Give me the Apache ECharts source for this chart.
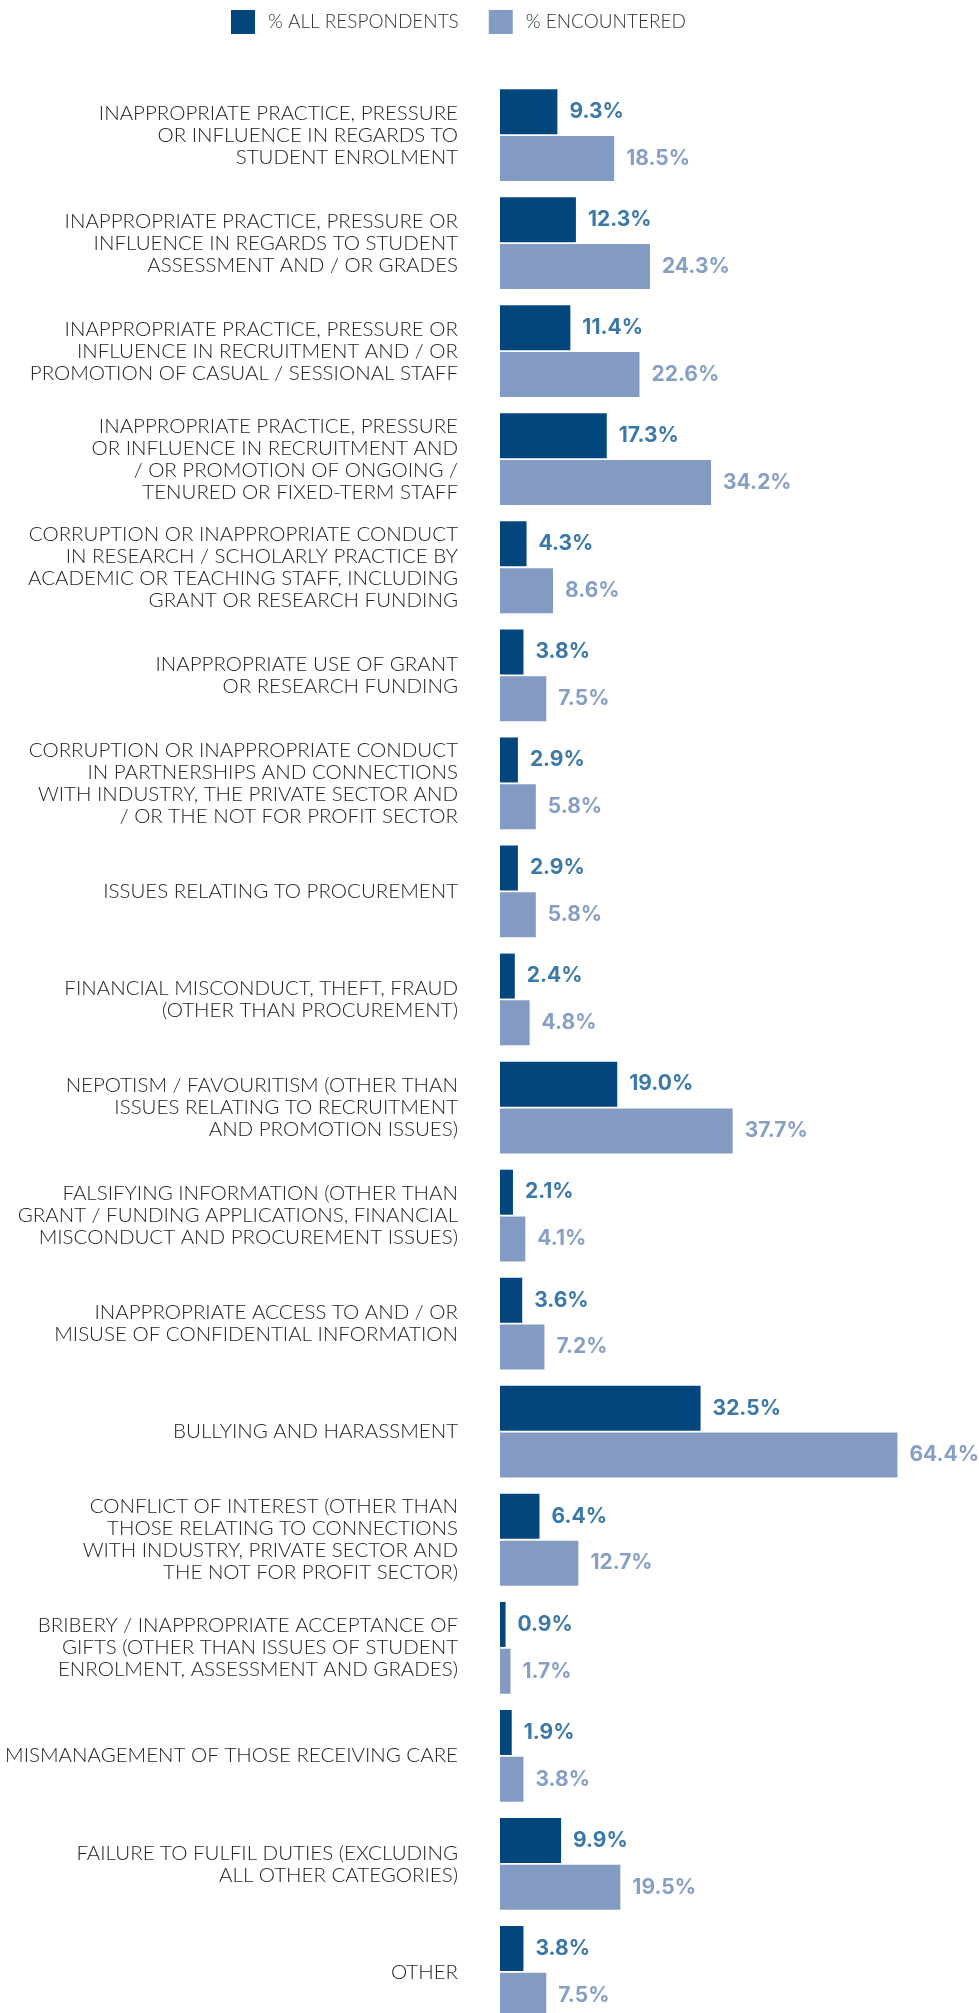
<!DOCTYPE html>
<html>
<head>
<meta charset="utf-8">
<script src="https://cdn.jsdelivr.net/npm/echarts@6/dist/echarts.min.js"></script>
<style>
  html, body { margin: 0; padding: 0; background: #ffffff; }
  #chart { width: 979px; height: 2013px; }
</style>
</head>
<body>
<div id="chart"></div>
<script>
// Issue categories (top to bottom)
const categories = [
  "INAPPROPRIATE PRACTICE, PRESSURE\nOR INFLUENCE IN REGARDS TO\nSTUDENT ENROLMENT",
  "INAPPROPRIATE PRACTICE, PRESSURE OR\nINFLUENCE IN REGARDS TO STUDENT\nASSESSMENT AND / OR GRADES",
  "INAPPROPRIATE PRACTICE, PRESSURE OR\nINFLUENCE IN RECRUITMENT AND / OR\nPROMOTION OF CASUAL / SESSIONAL STAFF",
  "INAPPROPRIATE PRACTICE, PRESSURE\nOR INFLUENCE IN RECRUITMENT AND\n/ OR PROMOTION OF ONGOING /\nTENURED OR FIXED-TERM STAFF",
  "CORRUPTION OR INAPPROPRIATE CONDUCT\nIN RESEARCH / SCHOLARLY PRACTICE BY\nACADEMIC OR TEACHING STAFF, INCLUDING\nGRANT OR RESEARCH FUNDING",
  "INAPPROPRIATE USE OF GRANT\nOR RESEARCH FUNDING",
  "CORRUPTION OR INAPPROPRIATE CONDUCT\nIN PARTNERSHIPS AND CONNECTIONS\nWITH INDUSTRY, THE PRIVATE SECTOR AND\n/ OR THE NOT FOR PROFIT SECTOR",
  "ISSUES RELATING TO PROCUREMENT",
  "FINANCIAL MISCONDUCT, THEFT, FRAUD\n(OTHER THAN PROCUREMENT)",
  "NEPOTISM / FAVOURITISM (OTHER THAN\nISSUES RELATING TO RECRUITMENT\nAND PROMOTION ISSUES)",
  "FALSIFYING INFORMATION (OTHER THAN\nGRANT / FUNDING APPLICATIONS, FINANCIAL\nMISCONDUCT AND PROCUREMENT ISSUES)",
  "INAPPROPRIATE ACCESS TO AND / OR\nMISUSE OF CONFIDENTIAL INFORMATION",
  "BULLYING AND HARASSMENT",
  "CONFLICT OF INTEREST (OTHER THAN\nTHOSE RELATING TO CONNECTIONS\nWITH INDUSTRY, PRIVATE SECTOR AND\nTHE NOT FOR PROFIT SECTOR)",
  "BRIBERY / INAPPROPRIATE ACCEPTANCE OF\nGIFTS (OTHER THAN ISSUES OF STUDENT\nENROLMENT, ASSESSMENT AND GRADES)",
  "MISMANAGEMENT OF THOSE RECEIVING CARE",
  "FAILURE TO FULFIL DUTIES (EXCLUDING\nALL OTHER CATEGORIES)",
  "OTHER"
];

// Series names
const seriesNames = ["% ALL RESPONDENTS", "% ENCOUNTERED"];

// Share of all respondents (%)
const allRespondents = [9.3, 12.3, 11.4, 17.3, 4.3, 3.8, 2.9, 2.9, 2.4, 19.0, 2.1, 3.6, 32.5, 6.4, 0.9, 1.9, 9.9, 3.8];

// Share of those who encountered the issue (%)
const encountered = [18.5, 24.3, 22.6, 34.2, 8.6, 7.5, 5.8, 5.8, 4.8, 37.7, 4.1, 7.2, 64.4, 12.7, 1.7, 3.8, 19.5, 7.5];

const DARK = "#03467D";
const LIGHT = "#839BC2";
const DARK_LABEL = "#3A78A9";
const LIGHT_LABEL = "#889FC5";
const TEXT_FONT = "Lato, 'Noto Sans', sans-serif";
const VALUE_FONT = "Inter, Lato, sans-serif";

const chart = echarts.init(document.getElementById("chart"), null, { renderer: "canvas" });

function valueLabel(color) {
  return {
    show: true,
    position: "right",
    distance: 12,
    color: color,
    fontFamily: VALUE_FONT,
    fontWeight: "bold",
    fontSize: 21,
    formatter: p => p.value.toFixed(1) + "%"
  };
}

chart.setOption({
  animation: false,
  backgroundColor: "#ffffff",
  legend: {
    top: 10,
    left: 231,
    padding: 0,
    itemWidth: 24,
    itemHeight: 24,
    itemGap: 30,
    icon: "rect",
    data: seriesNames,
    textStyle: {
      fontFamily: TEXT_FONT,
      fontWeight: 300,
      fontSize: 19,
      color: "#333333",
      padding: [0, 0, 0, 8]
    }
  },
  grid: {
    left: 500,
    top: 81,
    width: 432,
    height: 1945,
    containLabel: false,
    outerBoundsMode: "none"
  },
  xAxis: {
    type: "value",
    min: 0,
    max: 70,
    show: false
  },
  yAxis: {
    type: "category",
    inverse: true,
    data: categories,
    axisLine: { show: false },
    axisTick: { show: false },
    splitLine: { show: false },
    axisLabel: {
      margin: 42,
      fontFamily: TEXT_FONT,
      fontWeight: 300,
      fontSize: 20.5,
      lineHeight: 22,
      color: "#222222",
      align: "right"
    }
  },
  series: [
    {
      name: seriesNames[0],
      type: "bar",
      data: allRespondents,
      barWidth: 45,
      barGap: "4%",
      itemStyle: { color: DARK },
      label: valueLabel(DARK_LABEL)
    },
    {
      name: seriesNames[1],
      type: "bar",
      data: encountered,
      barWidth: 45,
      barGap: "4%",
      itemStyle: { color: LIGHT },
      label: valueLabel(LIGHT_LABEL)
    }
  ]
});
</script>
</body>
</html>
